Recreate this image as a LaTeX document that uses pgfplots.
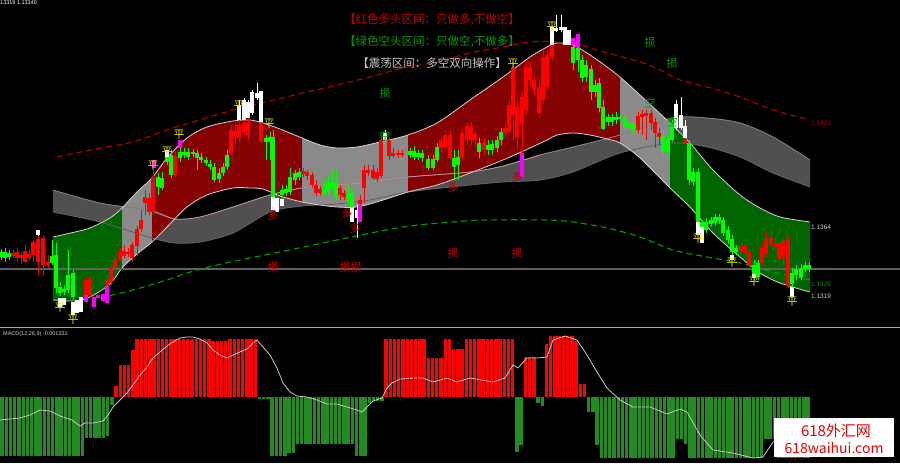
\documentclass[border=0pt]{standalone}
\usepackage{fontspec}
\setmainfont{Liberation Sans}
\newfontfamily\cjk{Noto Sans CJK SC}
\usepackage{pgfplots}
\pgfplotsset{compat=1.18}
\usepackage{pgfplotstable}
\usepgfplotslibrary{fillbetween}

\definecolor{bandred}{HTML}{850000}
\definecolor{bandgreen}{HTML}{006400}
\definecolor{bandgray}{HTML}{8A8A8A}
\definecolor{ribbonc}{HTML}{505050}
\definecolor{candR}{HTML}{FF0000}
\definecolor{candG}{HTML}{00FF00}
\definecolor{candM}{HTML}{FF00FF}
\definecolor{sigY}{HTML}{E6E600}
\definecolor{lblR}{HTML}{CC0000}
\definecolor{lblG}{HTML}{00A000}
\definecolor{macdG}{HTML}{228B22}
\definecolor{lineW}{HTML}{D8D0D0}

\pgfplotsset{
  wick/.style={draw=none,mark=none,forget plot,error bars/.cd,y dir=both,y explicit,error mark=none,error bar style={line width=0.9bp,draw=#1,solid}},
  body/.style={draw=none,mark=none,forget plot,error bars/.cd,y dir=both,y explicit,error mark=none,error bar style={line width=3.2bp,draw=#1,solid}},
  mbar/.style={draw=none,mark=none,forget plot,error bars/.cd,y dir=both,y explicit,error mark=none,error bar style={line width=3.4bp,draw=#1,solid}},
  lbl/.style={draw=none,mark=none,forget plot,nodes near coords,point meta=explicit symbolic,
     every node near coord/.append style={anchor=center,inner sep=0pt,text=#1,font=\cjk\fontsize{11bp}{11bp}\selectfont}},
}

% main band: upper and lower boundary (pixel rows)
\pgfplotstableread{
x u l
53 237 300
75 232 301
90 228 297
110 218 284
122 208 268
137 192 254
152 178 242
167 158 227
187 138 207
207 127 195
233 121 188
250 120 188
263 123 189
280 129 196
302 138 202
320 145 205
337 148 207
357 147 207
380 142 201
408 135 192
437 123 185
470 100 173
503 77 160
530 57 148
547 47 140
557 43 135
573 45 133
590 55 135
607 67 139
620 77 143
640 95 158
670 123 188
690 143 207
713 170 233
740 195 257
760 208 273
780 217 283
810 222 292
}\band

\pgfplotstableread{
x t b
53 190 212
100 203 222
152 211 238
175 219 243
200 217 242
233 207 233
270 195 212
302 188 206
337 185 204
370 182 200
408 177 192
470 172 185
503 166 182
540 155 180
573 147 172
620 135 153
673 118 143
707 118 147
740 123 157
773 137 173
810 160 187
}\ribbon

% candles: x, wick top, wick bottom, body top, body bottom
\pgfplotstableread{
x ht hb bt bb
1 249 260 252 257
5 248 262 252 258
9 250 260 253 257
52 240 265 256 263
56 243 293 255 288
60 282 296 287 293
64 285 295 289 292
68 250 293 275 290
73 270 300 273 297
158 173 195 177 187
162 172 190 178 188
167 152 165 155 162
171 150 178 155 175
180 148 162 152 158
184 148 158 152 155
188 148 160 152 157
193 149 157 152 154
197 150 170 153 158
201 153 163 157 160
206 157 166 160 163
210 160 170 164 167
214 163 182 167 180
219 168 183 173 179
223 163 176 167 173
227 150 170 155 167
266 135 160 138 142
270 132 160 137 142
273 130 200 137 197
282 185 198 190 195
286 185 196 189 193
290 168 195 177 192
295 170 185 173 180
299 168 180 172 177
324 180 196 189 193
328 175 195 183 192
332 170 190 182 187
336 170 200 183 197
348 185 205 193 197
352 190 208 193 207
410 148 158 151 155
414 146 160 151 157
418 150 160 153 157
422 150 162 153 158
428 155 170 159 168
433 155 170 159 168
437 143 162 147 160
454 150 180 158 167
458 150 180 157 165
479 138 158 143 152
488 140 155 145 150
492 140 155 144 150
497 136 152 140 148
501 128 145 132 140
573 45 70 47 63
578 47 72 48 60
582 55 82 60 78
586 60 82 65 77
591 65 100 69 92
595 80 97 85 92
599 78 112 83 108
603 100 130 107 129
608 114 126 117 122
612 114 126 117 122
616 112 124 117 120
620 113 122 117 119
625 113 130 117 127
629 120 130 123 128
633 119 133 123 131
663 130 155 136 152
668 135 155 139 152
672 120 142 125 140
689 140 185 143 180
693 168 186 172 182
698 168 225 172 222
702 220 232 222 230
706 218 233 222 230
711 217 227 220 224
715 214 226 217 223
719 214 224 217 221
723 217 236 220 233
728 226 244 230 240
732 235 255 239 252
736 245 255 248 252
754 260 280 265 277
758 260 280 263 277
792 268 287 273 284
796 265 280 269 275
801 264 280 268 278
805 262 272 265 269
809 262 272 265 269
}\candG

\pgfplotstableread{
x ht hb bt bb
13 250 258 253 256
17 248 262 252 258
21 252 264 255 258
25 245 263 251 262
29 250 260 254 258
33 240 262 242 255
38 236 275 239 262
43 236 275 238 265
48 255 268 262 265
86 278 300 280 297
90 276 298 279 295
107 276 289 279 287
111 263 285 267 282
115 255 270 259 268
120 248 262 252 260
124 246 258 251 256
128 248 257 252 254
132 242 262 245 258
137 226 256 229 246
141 210 232 220 229
145 190 215 197 203
149 193 215 198 212
153 170 215 177 212
175 152 178 156 175
231 125 155 130 153
235 125 145 131 137
239 120 142 125 138
244 120 135 123 132
248 118 140 122 135
261 120 145 123 142
303 168 177 171 174
307 170 180 172 176
312 172 188 175 185
316 180 196 185 193
320 186 196 189 193
340 185 200 188 195
344 190 200 193 197
360 195 206 200 204
364 165 203 170 188
368 165 176 170 173
373 165 180 170 178
377 168 182 172 179
381 135 178 140 176
389 137 160 140 156
393 148 158 153 156
398 150 158 153 155
402 150 157 153 155
441 137 152 140 148
445 130 150 135 147
450 130 160 135 158
462 130 160 133 157
467 122 145 126 140
471 122 145 126 140
475 130 145 134 140
484 138 155 142 150
505 124 138 128 133
509 100 135 105 132
513 62 140 67 115
517 100 150 107 137
522 92 153 97 123
526 62 115 67 110
530 62 85 68 80
534 75 95 80 90
539 80 118 87 113
543 50 105 57 100
547 50 90 55 87
552 45 60 45 57
638 112 133 116 130
642 110 135 114 117
646 110 140 113 116
651 110 130 113 123
655 118 148 122 133
659 128 145 133 137
685 137 145 139 143
741 243 254 246 251
745 243 256 246 253
749 248 268 252 265
762 245 266 248 263
766 232 258 239 254
771 232 248 238 245
775 238 250 243 247
779 240 270 243 259
783 238 262 241 258
788 235 288 239 286
}\candR

\pgfplotstableread{
x ht hb bt bb
38 230 236 230 235
60 298 307 298 307
64 298 305 298 305
73 302 315 302 315
77 300 313 300 313
81 297 312 297 312
167 150 157 150 157
239 100 120 105 120
244 98 120 100 120
248 100 118 102 118
252 90 115 92 113
257 83 100 93 98
261 91 122 91 122
273 197 210 197 210
277 198 212 198 212
282 199 206 199 206
352 207 222 207 222
357 205 238 210 218
385 130 140 133 140
552 27 45 27 45
556 15 32 28 31
561 15 32 27 30
565 27 45 27 45
569 30 45 30 45
676 100 130 104 128
681 97 130 115 128
685 120 138 126 138
698 222 235 222 235
702 227 243 227 243
732 255 260 255 260
754 274 278 274 278
792 287 297 287 297
}\candW

\pgfplotstableread{
x ht hb bt bb
86 295 302 295 302
94 295 311 297 307
98 293 300 295 298
103 292 304 294 301
107 286 303 286 303
154 160 168 160 168
180 140 148 140 148
360 205 222 205 222
522 153 177 153 177
573 38 45 38 45
578 34 47 34 47
}\candM

\begin{document}
\begin{tikzpicture}
\begin{axis}[
  width=900bp, height=463bp, scale only axis,
  xmin=0, xmax=900, ymin=0, ymax=463, y dir=reverse,
  axis line style={draw=none}, ticks=none,
  axis background/.style={fill=black},
]
% ---- dark gray ribbon
\addplot[draw=none, name path=RT, forget plot, smooth] table[x=x,y=t]{\ribbon};
\addplot[draw=none, name path=RB, forget plot, smooth] table[x=x,y=b]{\ribbon};
\addplot[color=ribbonc, fill=ribbonc, draw=none, forget plot] fill between[of=RT and RB, soft clip={domain=40:820}];
\addplot[color=black!50, line width=0.9bp, smooth, forget plot] table[x=x,y=t]{\ribbon};
\addplot[color=black!62, line width=0.9bp, smooth, forget plot] table[x=x,y=b]{\ribbon};

% ---- main band
\addplot[draw=none, name path=BU, forget plot, smooth] table[x=x,y=u]{\band};
\addplot[draw=none, name path=BL, forget plot, smooth] table[x=x,y=l]{\band};
\addplot[fill=bandgreen, draw=none, forget plot] fill between[of=BU and BL, soft clip={domain=30:122}];
\addplot[fill=bandgray, draw=none, forget plot] fill between[of=BU and BL, soft clip={domain=122:152}];
\addplot[fill=bandred, draw=none, forget plot] fill between[of=BU and BL, soft clip={domain=152:302}];
\addplot[fill=bandgray, draw=none, forget plot] fill between[of=BU and BL, soft clip={domain=302:408}];
\addplot[fill=bandred, draw=none, forget plot] fill between[of=BU and BL, soft clip={domain=408:620}];
\addplot[fill=bandgray, draw=none, forget plot] fill between[of=BU and BL, soft clip={domain=620:670}];
\addplot[fill=bandgreen, draw=none, forget plot] fill between[of=BU and BL, soft clip={domain=670:830}];
\addplot[color=lineW, line width=0.8bp, smooth, forget plot] table[x=x,y=u]{\band};
\addplot[color=lineW, line width=0.8bp, smooth, forget plot] table[x=x,y=l]{\band};
\addplot[color=lineW!70!red, line width=0.5bp, smooth, forget plot, restrict x to domain=150:560] table[x=x,y=t]{\ribbon};

% ---- dashed envelopes
\addplot[color=red!72!black, line width=1.1bp, dash pattern=on 6bp off 4bp, smooth, forget plot] coordinates {
(57,157)(100,148)(133,142)(167,130)(200,120)(233,110)(270,101)(303,93)(337,85)(370,77)(403,68)(437,62)(470,53)(503,47)(530,42)(560,42)(583,46)(607,53)(640,62)(660,70)(680,80)(707,87)(740,97)(773,110)(807,119)};
\addplot[color=lblG, line width=1.1bp, dash pattern=on 6bp off 4bp, smooth, forget plot] coordinates {
(100,298)(133,290)(167,280)(187,273)(217,265)(250,258)(280,252)(337,240)(403,227)(453,222)(487,220)(547,220)(573,222)(607,228)(640,237)(673,250)(707,257)(740,263)(773,272)(810,280)};

% ---- horizontal price line and panel separator
\addplot[color=black!62, line width=1.2bp, forget plot] coordinates {(0,269)(900,269)};
\addplot[color=black!35, line width=1.6bp, forget plot] coordinates {(0,327.5)(900,327.5)};

% ---- candles
\addplot[wick=candG] table[x=x, y expr={(\thisrow{ht}+\thisrow{hb})/2}, y error expr={(\thisrow{hb}-\thisrow{ht})/2}]{\candG};
\addplot[body=candG] table[x=x, y expr={(\thisrow{bt}+\thisrow{bb})/2}, y error expr={(\thisrow{bb}-\thisrow{bt})/2}]{\candG};
\addplot[wick=candR] table[x=x, y expr={(\thisrow{ht}+\thisrow{hb})/2}, y error expr={(\thisrow{hb}-\thisrow{ht})/2}]{\candR};
\addplot[body=candR] table[x=x, y expr={(\thisrow{bt}+\thisrow{bb})/2}, y error expr={(\thisrow{bb}-\thisrow{bt})/2}]{\candR};
\addplot[wick=white] table[x=x, y expr={(\thisrow{ht}+\thisrow{hb})/2}, y error expr={(\thisrow{hb}-\thisrow{ht})/2}]{\candW};
\addplot[body=white] table[x=x, y expr={(\thisrow{bt}+\thisrow{bb})/2}, y error expr={(\thisrow{bb}-\thisrow{bt})/2}]{\candW};
\addplot[body=candM] table[x=x, y expr={(\thisrow{bt}+\thisrow{bb})/2}, y error expr={(\thisrow{bb}-\thisrow{bt})/2}]{\candM};

% ---- signal labels
\addplot[lbl=sigY] table[meta=t]{
x y t
60 308 平
73 320 平
153 166 平
167 152 平
179 135 平
239 106 平
269 124 平
513 64 平
552 27 平
698 239 平
732 263 平
754 282 平
792 302 平
};
\addplot[lbl=lblR] table[meta=t]{
x y t
273 215 多
347 213 多
355 228 多
453 187 多
517 177 多
273 267 损
345 267 损
356 267 损
453 253 损
517 253 损
};
\addplot[lbl=lblG] table[meta=t]{
x y t
385 93 损
650 42 损
672 63 损
385 136 空
650 103 空
672 122 空
};

% ---- texts
\node[anchor=center, text=lblR, font=\cjk\fontsize{11.5bp}{11.5bp}\selectfont] at (axis cs:432,20) {【红色多头区间：只做多,不做空】};
\node[anchor=center, text=lblG, font=\cjk\fontsize{11.5bp}{11.5bp}\selectfont] at (axis cs:432,42) {【绿色空头区间：只做空,不做多】};
\node[anchor=center, text=black!22, font=\cjk\fontsize{11.5bp}{11.5bp}\selectfont] at (axis cs:432,63) {【震荡区间：多空双向操作】};
\node[anchor=west, text=white, font=\fontsize{5.5bp}{6bp}\selectfont, inner sep=0pt] at (axis cs:0,3) {13319 1.13340};
\node[anchor=west, text=red!75!black, font=\fontsize{6.5bp}{7bp}\selectfont, inner sep=0pt] at (axis cs:811,123) {1.1431};
\node[anchor=west, text=black!20, font=\fontsize{6.5bp}{7bp}\selectfont, inner sep=0pt] at (axis cs:811,227) {1.1364};
\node[anchor=west, text=lblG, font=\fontsize{6.5bp}{7bp}\selectfont, inner sep=0pt] at (axis cs:811,284) {1.1326};
\node[anchor=west, text=black!20, font=\fontsize{6.5bp}{7bp}\selectfont, inner sep=0pt] at (axis cs:811,296) {1.1319};
\node[anchor=west, text=black!20, font=\fontsize{5.5bp}{6bp}\selectfont, inner sep=0pt] at (axis cs:3,334) {MACD(12,26,9) -0.001331};

% ---- MACD histogram (bar index i, bar end row v; zero row 397)
\addplot[mbar=candR] table[row sep=\\, x expr=\thisrow{i}*4.22+2.1, y expr=(397+\thisrow{v})/2, y error expr=abs(\thisrow{v}-397)/2]{
i v\\ 27 386\\ 28 365\\ 29 365\\ 30 365\\ 31 350\\
32 339\\ 33 339\\ 34 339\\ 35 339\\ 36 339\\ 37 339\\ 38 339\\ 39 339\\ 40 339\\ 41 339\\ 42 339\\ 43 339\\ 44 339\\ 45 339\\ 46 339\\ 47 339\\ 48 339\\ 49 339\\
50 341\\ 51 341\\ 52 341\\ 53 341\\ 54 339\\ 55 339\\ 56 339\\ 57 339\\ 58 339\\ 59 339\\ 60 339\\
91 339\\ 92 339\\ 93 339\\ 94 339\\ 95 339\\ 96 339\\ 97 339\\ 98 339\\ 99 339\\ 100 339\\
101 358\\ 102 358\\ 103 358\\ 104 358\\ 105 339\\ 106 339\\ 107 349\\ 108 349\\ 109 349\\
110 339\\ 111 339\\ 112 339\\ 113 339\\ 114 339\\ 115 339\\ 116 339\\ 117 339\\ 118 339\\ 119 339\\ 120 339\\ 121 339\\
124 357\\ 125 357\\ 126 357\\ 129 344\\ 130 336\\ 131 336\\ 132 336\\ 133 336\\ 134 336\\ 135 336\\ 136 341\\ 137 384\\ 138 384\\
};
\addplot[mbar=macdG] table[row sep=\\, x expr=\thisrow{i}*4.22+2.1, y expr=(397+\thisrow{v})/2, y error expr=abs(\thisrow{v}-397)/2]{
i v\\ 0 456\\ 1 456\\ 2 456\\ 3 456\\ 4 456\\ 5 456\\ 6 456\\ 7 456\\ 8 456\\ 9 456\\ 10 456\\ 11 456\\ 12 456\\ 13 456\\ 14 456\\ 15 456\\ 16 456\\ 17 456\\ 18 456\\ 19 456\\
20 438\\ 21 438\\ 22 438\\ 23 438\\ 24 438\\ 25 436\\ 26 405\\ 61 398\\ 62 398\\ 63 398\\
64 456\\ 65 456\\ 66 456\\ 67 456\\ 68 453\\ 69 453\\
70 444\\ 71 444\\ 72 444\\ 73 444\\ 74 444\\ 75 444\\ 76 444\\ 77 444\\ 78 444\\ 79 444\\ 80 444\\ 81 444\\ 82 444\\ 83 444\\
84 456\\ 85 456\\ 86 456\\ 87 403\\ 88 401\\ 89 401\\ 90 401\\ 122 452\\ 123 445\\ 127 403\\ 128 406\\
139 412\\ 140 412\\ 141 445\\
142 458\\ 143 458\\ 144 458\\ 145 458\\ 146 458\\ 147 458\\ 148 458\\ 149 458\\ 150 458\\ 151 458\\ 152 458\\ 153 458\\ 154 458\\ 155 458\\ 156 458\\ 157 458\\ 158 458\\ 159 458\\
160 439\\ 161 439\\ 162 444\\
163 458\\ 164 458\\ 165 458\\ 166 458\\ 167 458\\ 168 458\\ 169 458\\ 170 458\\ 171 458\\ 172 458\\ 173 458\\ 174 458\\ 175 458\\ 176 458\\ 177 458\\ 178 458\\ 179 458\\ 180 458\\
181 439\\ 182 439\\ 183 439\\ 184 458\\ 185 458\\ 186 458\\ 187 458\\ 188 458\\ 189 458\\ 190 458\\ 191 458\\
};
% MACD signal line
\addplot[color=black!22, line width=0.8bp, forget plot] coordinates {
(0,420)(10,419)(20,418)(30,415)(40,410)(50,411)(60,416)(72,420)(80,426)(85,423)(93,423)(103,421)(108,415)(113,407)(120,400)(127,393)(133,385)(140,375)(147,367)(153,358)(160,352)(167,346)(173,342)(180,338)(187,337)(193,337)(200,339)(207,343)(213,350)(220,355)(227,358)(233,355)(240,352)(247,349)(253,343)(257,340)(263,347)(270,355)(277,368)(283,383)(290,392)(297,396)(307,397)(317,400)(327,404)(337,404)(347,407)(357,410)(362,412)(367,407)(373,401)(382,398)(387,388)(392,383)(400,379)(413,378)(423,378)(433,382)(440,380)(447,378)(457,382)(470,378)(493,382)(505,378)(513,365)(518,368)(527,358)(537,358)(547,357)(553,340)(565,336)(577,340)(587,355)(597,372)(607,388)(620,400)(633,407)(650,407)(667,414)(680,409)(687,412)(700,435)(713,450)(733,453)(753,458)(763,457)(773,442)(790,432)(810,428)};

% ---- watermark
\addplot[fill=white, draw=none, forget plot] coordinates {(774,418)(894,418)(894,457)(774,457)} -- cycle;
\node[anchor=center, text=red!90!black, font=\cjk\fontsize{15bp}{15bp}\selectfont, inner sep=0pt] at (axis cs:836,431) {618外汇网};
\node[anchor=center, text=red!90!black, font=\cjk\fontsize{14bp}{14bp}\selectfont, inner sep=0pt] at (axis cs:834,448) {618waihui.com};
\end{axis}
\end{tikzpicture}
\end{document}
